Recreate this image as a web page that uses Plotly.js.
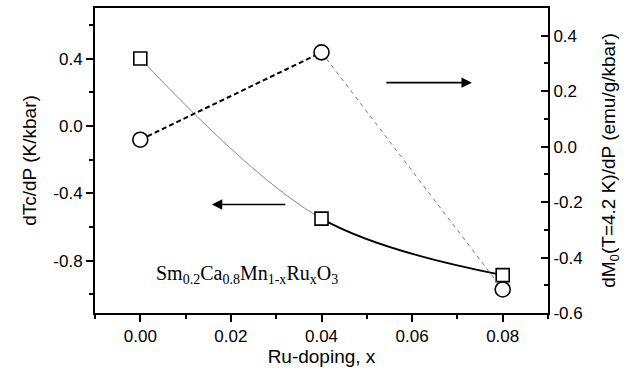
<!DOCTYPE html>
<html>
<head>
<meta charset="utf-8">
<script src="https://cdn.plot.ly/plotly-3.0.1.min.js"></script>
<style>body{margin:0}</style>
</head>
<body>
<div id="chart"></div>
<script>
// Data
const dopingX = [0.00, 0.04, 0.08];
const dTcdP = [0.40, -0.55, -0.885];          // left axis, squares (K/kbar)
const dM0dP = [0.025, 0.34, -0.515];          // right axis, circles (emu/g/kbar)
const xTickVals = [0.00, 0.02, 0.04, 0.06, 0.08];
const xTickText = ['0.00', '0.02', '0.04', '0.06', '0.08'];
const yLeftTickVals = [-0.8, -0.4, 0.0, 0.4];
const yLeftTickText = ['-0.8', '-0.4', '0.0', '0.4'];
const yRightTickVals = [-0.6, -0.4, -0.2, 0.0, 0.2, 0.4];
const yRightTickText = ['-0.6', '-0.4', '-0.2', '0.0', '0.2', '0.4'];

const xRange = [-0.01, 0.09];
const yLeftRange = [-1.11, 0.70];
const yRightRange = [-0.60, 0.50];

const M = {l: 95, r: 89, t: 8, b: 66};
const W = 637 - M.l - M.r, H = 379 - M.t - M.b;

// Smooth guide curve through the squares (same Catmull-Rom rule Plotly's spline uses)
const sx = W / (xRange[1] - xRange[0]);
const sy = H / (yLeftRange[1] - yLeftRange[0]);
function makeTangent(p0, p1, p2, s) {
  const d1x = p0[0] - p1[0], d1y = p0[1] - p1[1];
  const d2x = p2[0] - p1[0], d2y = p2[1] - p1[1];
  const d1a = Math.pow(d1x * d1x + d1y * d1y, 0.25);
  const d2a = Math.pow(d2x * d2x + d2y * d2y, 0.25);
  const numx = (d2a * d2a * d1x - d1a * d1a * d2x) * s;
  const numy = (d2a * d2a * d1y - d1a * d1a * d2y) * s;
  const den1 = 3 * d2a * (d1a + d2a);
  const den2 = 3 * d1a * (d1a + d2a);
  return [[p1[0] + numx / den1, p1[1] + numy / den1], [p1[0] - numx / den2, p1[1] - numy / den2]];
}
const pts = dopingX.map((x, i) => [x * sx, -dTcdP[i] * sy]);
const tan = makeTangent(pts[0], pts[1], pts[2], 1);
const c1x = tan[0][0] / sx, c1y = -tan[0][1] / sy;
const c2x = tan[1][0] / sx, c2y = -tan[1][1] / sy;
const thinPath = 'M' + dopingX[0] + ',' + dTcdP[0] + ' Q' + c1x + ',' + c1y + ' ' + dopingX[1] + ',' + dTcdP[1];
const boldPath = 'M' + dopingX[1] + ',' + dTcdP[1] + ' Q' + c2x + ',' + c2y + ' ' + dopingX[2] + ',' + dTcdP[2];

const FONT = 'Liberation Sans, Arial, sans-serif';

const traces = [
  {x: dopingX.slice(0, 2), y: dM0dP.slice(0, 2), yaxis: 'y2', mode: 'lines', line: {color: '#000', width: 2, dash: '5px,3px'}, showlegend: false},
  {x: dopingX.slice(1, 3), y: dM0dP.slice(1, 3), yaxis: 'y2', mode: 'lines', line: {color: '#777', width: 1, dash: '4px,4px'}, showlegend: false},
  {x: dopingX, y: dTcdP, yaxis: 'y', mode: 'markers', marker: {symbol: 'square', size: 13, color: '#fff', line: {color: '#000', width: 1.6}}, showlegend: false},
  {x: dopingX, y: dM0dP, yaxis: 'y2', mode: 'markers', marker: {symbol: 'circle', size: 15, color: '#fff', line: {color: '#000', width: 1.6}}, showlegend: false}
];

const axisCommon = {showgrid: false, zeroline: false, showline: true, linecolor: '#000', linewidth: 2, tickcolor: '#000', tickwidth: 2, ticklen: 7, tickfont: {family: FONT, size: 17, color: '#000'}};

const layout = {
  width: 637, height: 379,
  margin: M,
  paper_bgcolor: '#fff', plot_bgcolor: '#fff',
  showlegend: false,
  xaxis: Object.assign({}, axisCommon, {
    range: xRange, tickmode: 'array', tickvals: xTickVals, ticktext: xTickText, ticks: 'outside', mirror: true,
    minor: {dtick: 0.01, ticklen: 4, tickwidth: 2, tickcolor: '#000', ticks: 'outside'},
    title: {text: 'Ru-doping, x', font: {family: FONT, size: 19, color: '#000'}, standoff: 4}
  }),
  yaxis: Object.assign({}, axisCommon, {
    range: yLeftRange, tickmode: 'array', tickvals: yLeftTickVals, ticktext: yLeftTickText, ticks: 'outside',
    minor: {dtick: 0.2, ticklen: 4, tickwidth: 2, tickcolor: '#000', ticks: 'outside'},
    title: {text: 'dTc/dP (K/kbar)', font: {family: FONT, size: 19, color: '#000'}, standoff: 12}
  }),
  yaxis2: Object.assign({}, axisCommon, {
    range: yRightRange, overlaying: 'y', side: 'right', tickmode: 'array', tickvals: yRightTickVals, ticktext: yRightTickText, ticks: 'inside',
    minor: {dtick: 0.1, ticklen: 4, tickwidth: 2, tickcolor: '#000', ticks: 'inside'},
    title: {text: 'dM<sub>0</sub>(T=4.2 K)/dP (emu/g/kbar)', font: {family: FONT, size: 19, color: '#000'}, standoff: 20}
  }),
  shapes: [
    {type: 'path', xref: 'x', yref: 'y', path: thinPath, line: {color: '#8a8a8a', width: 1}, layer: 'below'},
    {type: 'path', xref: 'x', yref: 'y', path: boldPath, line: {color: '#000', width: 1.8}, layer: 'below'}
  ],
  annotations: [
    {xref: 'x', yref: 'y', x: 0.0732, y: 0.257, ax: -87, ay: 0, text: '', showarrow: true, arrowhead: 2, arrowsize: 1.3, arrowwidth: 1.6, arrowcolor: '#000'},
    {xref: 'x', yref: 'y', x: 0.0158, y: -0.466, ax: 75, ay: 0, text: '', showarrow: true, arrowhead: 2, arrowsize: 1.3, arrowwidth: 1.6, arrowcolor: '#000'},
    {xref: 'paper', yref: 'paper', x: 0.13, y: 0.125, xanchor: 'left', yanchor: 'middle', showarrow: false,
     text: 'Sm<sub>0.2</sub>Ca<sub>0.8</sub>Mn<sub>1-x</sub>Ru<sub>x</sub>O<sub>3</sub>',
     font: {family: 'Liberation Serif, Times New Roman, serif', size: 20, color: '#000'}}
  ]
};

Plotly.newPlot('chart', traces, layout, {staticPlot: true, displayModeBar: false});
</script>
</body>
</html>
